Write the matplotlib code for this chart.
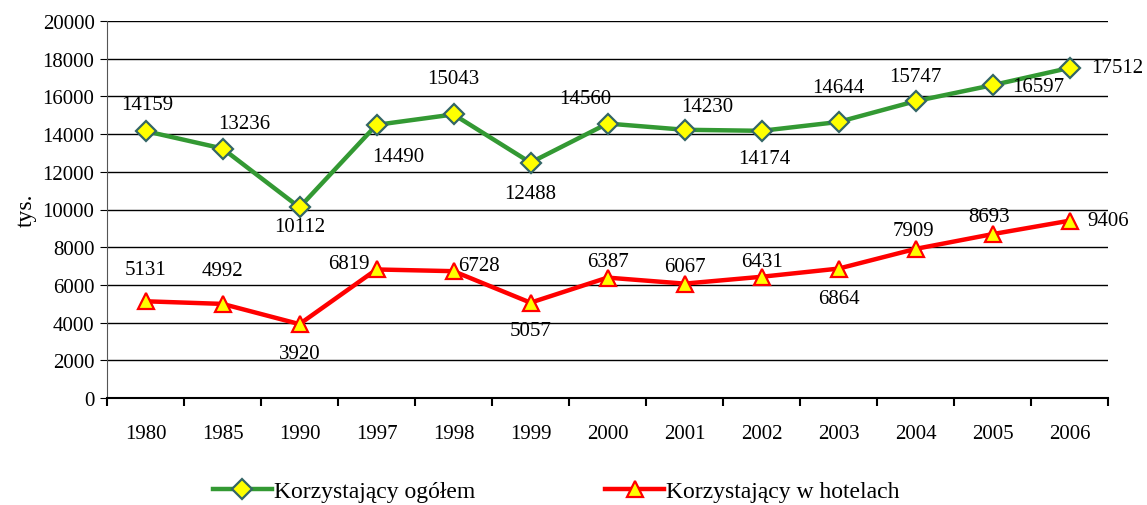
import numpy as np
import matplotlib.pyplot as plt
from matplotlib.ticker import FixedLocator, MultipleLocator

years = ["1980", "1985", "1990", "1997", "1998", "1999", "2000",
         "2001", "2002", "2003", "2004", "2005", "2006"]
ogolem = [14159, 13236, 10112, 14490, 15043, 12488, 14560,
          14230, 14174, 14644, 15747, 16597, 17512]
hotele = [5131, 4992, 3920, 6819, 6728, 5057, 6387,
          6067, 6431, 6864, 7909, 8693, 9406]

# label offsets in pixels (dx, dy) relative to each marker
off_green = [(2, 27), (22, 25), (0, -19), (22, -32), (0, 36), (0, -31), (-22, 25),
             (23, 23), (3, -28), (0, 34), (0, 25), (46, -1), (48, 0)]
off_red = [(0, 32), (0, 33), (0, -29), (-28, 6), (25, 6), (0, -28), (0, 16),
           (0, 17), (0, 15), (0, -30), (-2, 18), (-3, 18), (39, 0)]

plt.rcParams['font.family'] = ['Liberation Serif', 'DejaVu Serif']

fig = plt.figure(figsize=(11.47, 5.06), dpi=100)
ax = fig.add_axes([107 / 1147, 107 / 506, 1001 / 1147, 377 / 506])

x = np.arange(len(years))
ax.plot(x, ogolem, color='#339933', lw=3.2, marker='D', ms=10,
        mfc='#ffff00', mec='#336666', mew=1.6, label='Korzystający ogółem', zorder=3)
ax.plot(x, hotele, color='#ff0000', lw=3.2, marker='^', ms=12,
        mfc='#ffff00', mec='#ff0000', mew=1.6, label='Korzystający w hotelach', zorder=3)

for xi, v, (dx, dy) in zip(x, ogolem, off_green):
    ax.annotate(str(v), (xi, v), xytext=(dx, dy), textcoords='offset pixels',
                ha='center', va='center', fontsize=15)
for xi, v, (dx, dy) in zip(x, hotele, off_red):
    ax.annotate(str(v), (xi, v), xytext=(dx, dy), textcoords='offset pixels',
                ha='center', va='center', fontsize=15)

ax.set_xlim(-0.5, len(years) - 0.5)
ax.set_ylim(0, 20000)
ax.yaxis.set_major_locator(MultipleLocator(2000))
ax.set_xticks(x)
ax.set_xticklabels(years, fontsize=15)
ax.xaxis.set_minor_locator(FixedLocator(np.arange(-0.5, len(years), 1)))
ax.tick_params(axis='x', which='major', length=0, pad=19)
ax.tick_params(axis='x', which='minor', length=6, width=1.5, color='black')
ax.tick_params(axis='y', length=5, labelsize=15, pad=4)
ax.grid(axis='y', color='black', lw=1)
ax.set_axisbelow(True)
for s in ['top', 'right']:
    ax.spines[s].set_visible(False)
ax.spines['bottom'].set_linewidth(1.5)
ax.spines['left'].set_color('#555555')
ax.set_ylabel('tys.', fontsize=17, labelpad=4)

fig.legend(loc='center', bbox_to_anchor=(0.485, 0.027), ncol=2, frameon=False,
           fontsize=17, columnspacing=5.5, handlelength=2.5, handletextpad=0.1)

fig.savefig('out.png', dpi=100)
